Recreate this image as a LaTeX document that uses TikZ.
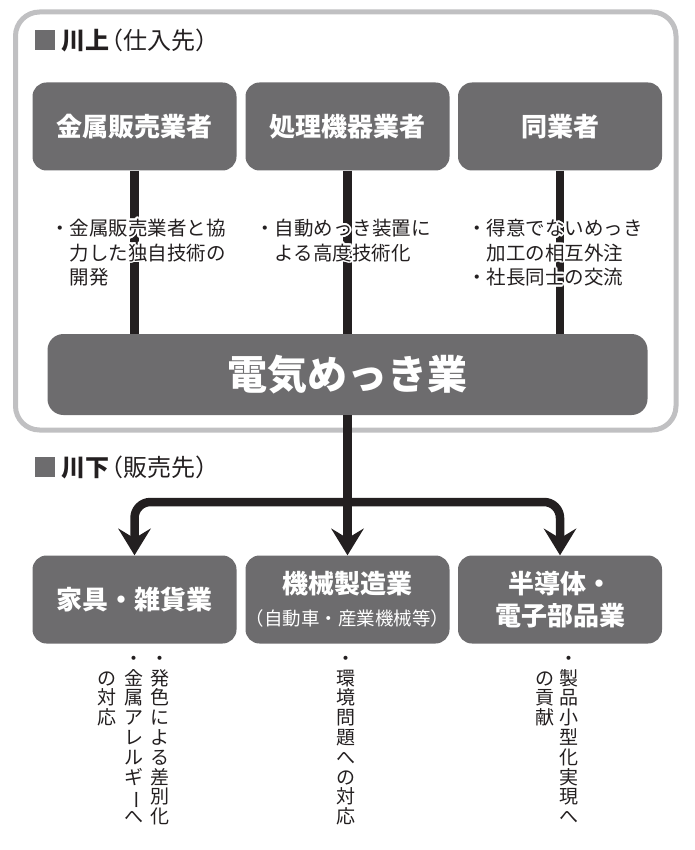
\documentclass[tikz,border=0pt]{standalone}
\usepackage{fontspec}
\setmainfont{Noto Sans CJK JP}
\usepackage{contour}
\contourlength{1.8pt}
\usetikzlibrary{positioning}
\usetikzlibrary{arrows.meta}
\definecolor{boxgray}{RGB}{109,108,110}
\definecolor{framegray}{RGB}{192,192,194}
\definecolor{inkblack}{RGB}{35,31,32}
\newcommand{\hl}[1]{\contour{white}{#1}}
\newcommand{\tatebar}{\rotatebox[origin=c]{-90}{ー}}
\tikzset{
    bizbox/.style = {rectangle, rounded corners=14pt, fill=boxgray, text=white, align=center, minimum width=204pt, minimum height=88pt, inner sep=0pt, font=\fontsize{26}{32}\selectfont\bfseries},
    mainbox/.style = {rectangle, rounded corners=16pt, fill=boxgray, text=white, minimum width=600pt, minimum height=81pt, inner sep=0pt, font=\fontsize{40}{44}\selectfont\bfseries},
    headsq/.style = {rectangle, fill=boxgray, minimum size=20pt, inner sep=0pt},
    headtxt/.style = {anchor=west, inner sep=0pt, text=inkblack, font=\fontsize{24}{28}\selectfont},
    notetxt/.style = {anchor=north west, align=left, inner sep=0pt, text=inkblack, font=\fontsize{19.5}{24.5}\selectfont},
    tatetxt/.style = {anchor=north, align=center, inner sep=0pt, text=inkblack, font=\fontsize{19}{19.8}\selectfont},
    framebox/.style = {draw=framegray, line width=5pt, rounded corners=24pt},
    edgek/.style = {-, line width=8.5pt, inkblack},
    edgea/.style = {-{Stealth[length=27pt,width=33pt,inset=10pt,line width=0pt]}, line width=8.5pt, inkblack, rounded corners=16pt}
}
\begin{document}
\begin{tikzpicture}[x=1pt, y=-1pt]
  \useasboundingbox (0,0) rectangle (694,850);
  \draw[framebox] (15.5,12) rectangle (676,430);
  % upstream
  \node[headsq] (sqa) at (45,40) {};
  \node[headtxt, right=6pt of sqa] (heada) {{\bfseries 川上}\kern-10pt（仕入先）};
  \node[bizbox] (top1) at (134.5,126.5) {金属販売業者};
  \node[bizbox] (top2) at (347.5,126.5) {処理機器業者};
  \node[bizbox] (top3) at (560,126.5) {同業者};
  \node[mainbox] (main) at (347.5,374.5) {電気めっき業};
  \draw[edgek] (top1.south) -- (top1.south |- main.north);
  \draw[edgek] (top2.south) -- (top2.south |- main.north);
  \draw[edgek] (top3.south) -- (top3.south |- main.north);
  \node[notetxt] (note1) at (50,219) {\hl{・金属販売業者と協}\\\hl{\hphantom{・}力した独自技術の}\\\hl{\hphantom{・}開発}};
  \node[notetxt] (note2) at (255,219) {\hl{・自動めっき装置に}\\\hl{\hphantom{・}よる高度技術化}};
  \node[notetxt] (note3) at (467,219) {\hl{・得意でないめっき}\\\hl{\hphantom{・}加工の相互外注}\\\hl{・社長同士の交流}};
  % downstream
  \node[headsq] (sqb) at (45,467) {};
  \node[headtxt, right=6pt of sqb] (headb) {{\bfseries 川下}\kern-10pt（販売先）};
  \node[bizbox] (bot1) at (134.5,599.5) {家具・雑貨業};
  \node[bizbox] (bot2) at (347.5,599.5) {機械製造業\\{\fontsize{18.5}{20}\selectfont\mdseries（自動車・産業機械等）}};
  \node[bizbox] (bot3) at (560,599.5) {半導体・\\電子部品業};
  \coordinate (fork) at (347.5,502);
  \draw[edgek] (main.south) -- (fork);
  \draw[edgea] (fork) -| (bot1.north);
  \draw[edgea] (fork) -| (bot3.north);
  \draw[edgea] (fork) -- (bot2.north);
  \node[tatetxt] (tateA1) at (160,650) {\vphantom{国}・\\発\\色\\に\\よ\\る\\差\\別\\化};
  \node[tatetxt] (tateA2) at (134,650) {\vphantom{国}・\\金\\属\\ア\\レ\\ル\\ギ\\\tatebar\\へ};
  \node[tatetxt] (tateA3) at (107,669.8) {\vphantom{国}の\\対\\応};
  \node[tatetxt] (tateB) at (346,650) {\vphantom{国}・\\環\\境\\問\\題\\へ\\の\\対\\応};
  \node[tatetxt] (tateC1) at (569,650) {\vphantom{国}・\\製\\品\\小\\型\\化\\実\\現\\へ};
  \node[tatetxt] (tateC2) at (545,669.8) {\vphantom{国}の\\貢\\献};
\end{tikzpicture}
\end{document}
